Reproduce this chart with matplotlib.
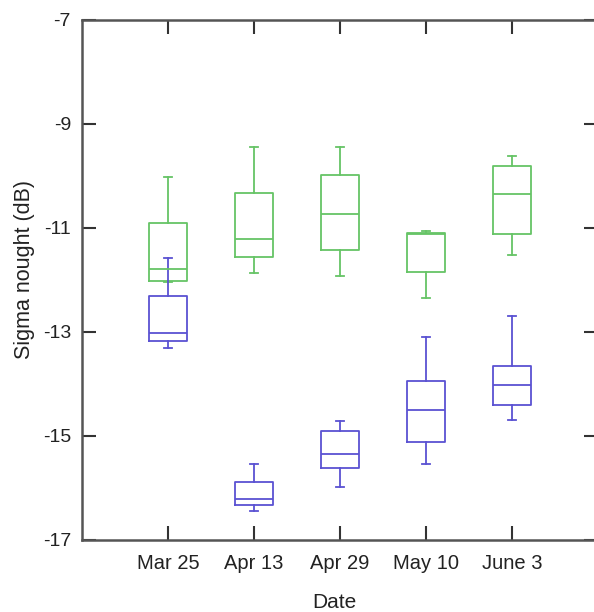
import matplotlib
matplotlib.use("Agg")
import matplotlib.pyplot as plt

plt.rcParams['font.family'] = ['Liberation Sans', 'DejaVu Sans']

dates = ["Mar 25", "Apr 13", "Apr 29", "May 10", "June 3"]

# green series: whisker low, q1, median, q3, whisker high
green_wlo = [-12.03, -11.87, -11.92, -12.35, -11.51]
green_q1 = [-12.02, -11.55, -11.42, -11.84, -11.12]
green_med = [-11.79, -11.21, -10.73, -11.12, -10.35]
green_q3 = [-10.91, -10.32, -9.98, -11.10, -9.80]
green_whi = [-10.01, -9.44, -9.44, -11.06, -9.62]

# blue series
blue_wlo = [-13.31, -16.44, -15.99, -15.54, -14.69]
blue_q1 = [-13.17, -16.33, -15.61, -15.11, -14.40]
blue_med = [-13.01, -16.22, -15.35, -14.50, -14.02]
blue_q3 = [-12.30, -15.88, -14.90, -13.95, -13.65]
blue_whi = [-11.58, -15.53, -14.72, -13.10, -12.69]

yticks = [-17, -15, -13, -11, -9, -7]

GREEN = "#66c466"
BLUE = "#5a52d2"

fig = plt.figure(figsize=(5.94, 6.12), dpi=100)
ax = fig.add_axes([82 / 594, 1 - 540 / 612, (598 - 82) / 594, (540 - 20) / 612])

positions = list(range(1, len(dates) + 1))


def stats(wlo, q1, med, q3, whi):
    return [dict(whislo=a, q1=b, med=c, q3=d, whishi=e, fliers=[])
            for a, b, c, d, e in zip(wlo, q1, med, q3, whi)]


for st, col in [(stats(green_wlo, green_q1, green_med, green_q3, green_whi), GREEN),
                (stats(blue_wlo, blue_q1, blue_med, blue_q3, blue_whi), BLUE)]:
    ax.bxp(st, positions=positions, widths=0.45, capwidths=0.09,
           showfliers=False, manage_ticks=False,
           boxprops=dict(color=col, linewidth=1.3),
           medianprops=dict(color=col, linewidth=1.3),
           whiskerprops=dict(color=col, linewidth=1.3),
           capprops=dict(color=col, linewidth=1.3))

ax.set_xlim(0, 6)
ax.set_ylim(-17, -7)
ax.set_xticks(positions)
ax.set_xticklabels(dates)
ax.set_yticks(yticks)
ax.set_yticklabels([str(v) for v in yticks])
ax.tick_params(direction='in', length=10, width=1.5, color='#333333',
               labelcolor='#222222', top=True, right=True)
ax.tick_params(axis='x', labelsize=14.5, pad=10)
ax.tick_params(axis='y', labelsize=14, pad=8)
for s in ['left', 'bottom', 'top']:
    ax.spines[s].set_color('#555555')
    ax.spines[s].set_linewidth(1.8)
ax.spines['right'].set_visible(False)

ax.set_xlabel("Date", fontsize=15, color='#222222')
ax.set_ylabel("Sigma nought (dB)", fontsize=15.5, color='#222222')
ax.xaxis.set_label_coords(0.49, -0.102)
ax.yaxis.set_label_coords(-0.091, 0.521)

fig.savefig("out.png", dpi=100)
